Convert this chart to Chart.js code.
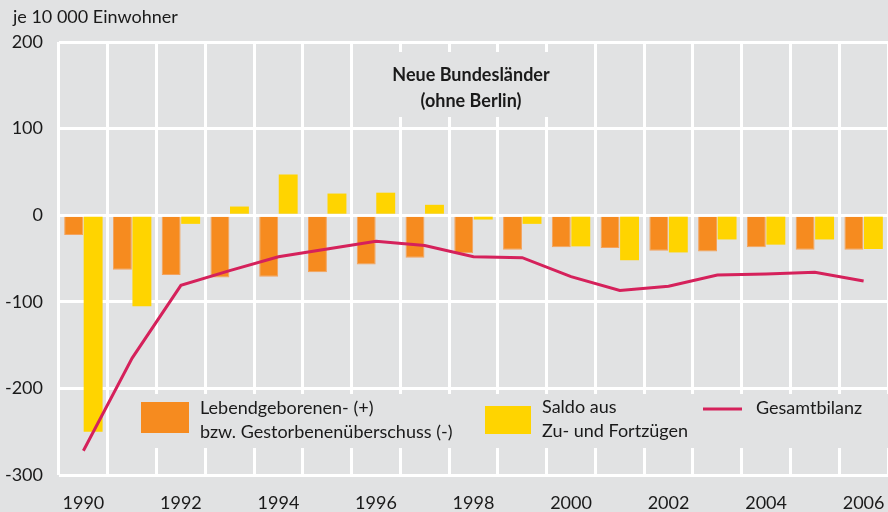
<!DOCTYPE html>
<html><head><meta charset="utf-8">
<script src="https://cdn.jsdelivr.net/npm/chart.js@4"></script>
<style>
html,body{margin:0;padding:0;background:#e1e2e3;overflow:hidden}
#wrap{position:relative;width:888px;height:512px}
</style></head>
<body><div id="wrap"><canvas id="c" width="888" height="512"></canvas></div>
<script>
const years = ['1990','1991','1992','1993','1994','1995','1996','1997','1998','1999','2000','2001','2002','2003','2004','2005','2006'];
const naturalBalance = [-23,-63,-69,-72,-71,-66,-57,-49,-44,-40,-37,-38,-41,-42,-37,-40,-40];
const migrationBalance = [-250,-105,-10,10,47,25,26,12,-5,-10,-36,-52,-43,-28,-34,-28,-39];
const totalBalance = [-272,-165,-81,-64,-48,-39,-30,-35,-48,-49,-71,-87,-82,-69,-68,-66,-76];
const xTickLabels = ['1990','','1992','','1994','','1996','','1998','','2000','','2002','','2004','','2006'];
const yTickValues = [200,100,0,-100,-200,-300];
const unitLabel = 'je 10 000 Einwohner';
const titleLines = ['Neue Bundesländer','(ohne Berlin)'];
const legendNatural = ['Lebendgeborenen- (+)','bzw. Gestorbenenüberschuss (-)'];
const legendMigration = ['Saldo aus','Zu- und Fortzügen'];
const legendTotal = 'Gesamtbilanz';

const BG = '#e1e2e3', ORANGE = '#f68b1f', YELLOW = '#ffd400', RED = '#d5215b', TXT = '#1a1a1a';
const FONT = 'Lato, "DejaVu Sans", sans-serif';

const decor = {
  id: 'decor',
  beforeDatasetsDraw(chart) {
    const ctx = chart.ctx;
    ctx.save();
    ctx.fillStyle = BG;
    ctx.fillRect(353, 52, 241, 65);
    ctx.fillRect(118, 394, 770, 54);
    ctx.restore();
  },
  afterDraw(chart) {
    const ctx = chart.ctx;
    ctx.save();
    ctx.fillStyle = TXT;
    ctx.textBaseline = 'middle';
    ctx.font = '18px ' + FONT;
    ctx.textAlign = 'left';
    ctx.fillText(unitLabel, 13, 17);
    ctx.font = 'bold 18px ' + FONT;
    ctx.textAlign = 'center';
    ctx.fillText(titleLines[0], 471, 75);
    ctx.fillText(titleLines[1], 471, 101);
    // legend
    ctx.textAlign = 'left';
    ctx.font = '18px ' + FONT;
    ctx.fillStyle = ORANGE;
    ctx.fillRect(141, 402, 48, 31);
    ctx.fillStyle = YELLOW;
    ctx.fillRect(485, 406, 46, 28);
    ctx.strokeStyle = RED;
    ctx.lineWidth = 3;
    ctx.beginPath(); ctx.moveTo(703, 409); ctx.lineTo(742, 409); ctx.stroke();
    ctx.fillStyle = TXT;
    ctx.fillText(legendNatural[0], 200, 408);
    ctx.fillText(legendNatural[1], 200, 432);
    ctx.fillText(legendMigration[0], 542, 407);
    ctx.fillText(legendMigration[1], 542, 431);
    ctx.fillText(legendTotal, 756, 408);
    ctx.restore();
  }
};

new Chart(document.getElementById('c'), {
  type: 'bar',
  data: {
    labels: years,
    datasets: [
      { type: 'line', label: legendTotal, data: totalBalance, borderColor: RED, borderWidth: 3, pointRadius: 0, tension: 0, order: 0 },
      { label: legendNatural.join(' '), data: naturalBalance, backgroundColor: ORANGE, borderColor: '#f4a25c', borderWidth: 1, categoryPercentage: 0.8, barPercentage: 0.97, order: 1 },
      { label: legendMigration.join(' '), data: migrationBalance, backgroundColor: YELLOW, categoryPercentage: 0.8, barPercentage: 0.97, order: 1 }
    ]
  },
  options: {
    responsive: false,
    animation: false,
    layout: { padding: { top: 42, left: 0, right: 0, bottom: 0 } },
    plugins: { legend: { display: false }, tooltip: { enabled: false }, title: { display: false } },
    scales: {
      x: {
        grid: { color: '#ffffff', lineWidth: 3, drawTicks: false, offset: true },
        border: { display: false },
        ticks: { color: TXT, font: { family: FONT, size: 18 }, padding: 17, maxRotation: 0, autoSkip: false,
          callback: (v, i) => xTickLabels[i] },
        afterFit: s => { s.height = 37; s.paddingLeft = 0; s.paddingRight = 0; }
      },
      y: {
        min: -300, max: 200,
        grid: { color: '#ffffff', lineWidth: 3, drawTicks: false },
        border: { display: false },
        afterBuildTicks: s => { s.ticks = yTickValues.map(v => ({ value: v })); },
        ticks: { color: TXT, font: { family: FONT, size: 18 }, padding: 16 },
        afterFit: s => { s.width = 59; s.paddingTop = 0; s.paddingBottom = 0; }
      }
    }
  },
  plugins: [decor]
});
</script>
</body></html>
